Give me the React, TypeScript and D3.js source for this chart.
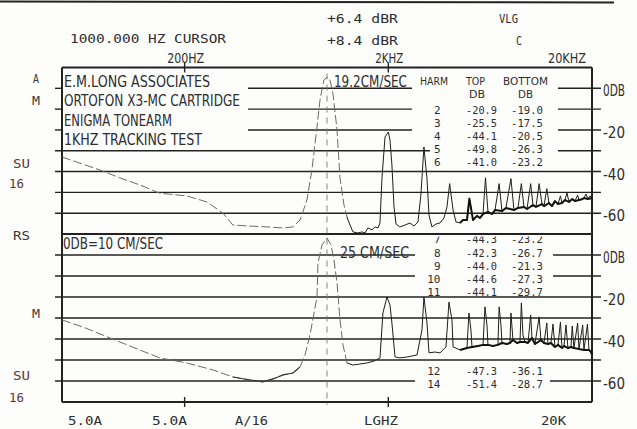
import React from 'react';
import * as d3 from 'd3';

const W = 637;
const H = 429;

// ---------- axes ----------
const FREQ_DOMAIN: [number, number] = [50, 20000];
const DB_DOMAIN: [number, number] = [10, -70];
const GRID_DB = [10, 0, -10, -20, -30, -40, -50, -60, -70];
const DB_LABEL_VALUES = [0, -20, -40, -60];
const DB_LABELS = ['0DB', '-20', '-40', '-60'];
const FREQ_TICKS = [200, 2000];
const FREQ_TICK_LABELS = ['200HZ', '2KHZ', '20KHZ'];
const FREQ_TICK_LABEL_FREQS = [200, 2000, 20000];
const CURSOR_FREQ = 1000;

// ---------- header ----------
const CURSOR_TEXT = '1000.000 HZ CURSOR';
const REF_LEVELS = ['+6.4 dBR', '+8.4 dBR'];
const MODE_TEXT = ['VLG', 'C'];
const INFO_LINES = ['E.M.LONG ASSOCIATES', 'ORTOFON X3-MC CARTRIDGE', 'ENIGMA TONEARM', '1KHZ TRACKING TEST'];
const TOP_SPEED = '19.2CM/SEC';
const BOTTOM_SPEED = '25 CM/SEC';
const REF_NOTE = '0DB=10 CM/SEC';
const LEFT_LABELS_TOP = ['A', 'M', 'SU', '16'];
const LEFT_LABELS_BOTTOM = ['RS', 'M', 'SU', '16'];
const BOTTOM_LABELS = ['5.0A', '5.0A', 'A/16', 'LGHZ', '20K'];

// ---------- harmonic table ----------
const HARM = ['2', '3', '4', '5', '6', '7', '8', '9', '10', '11', '12', '14'];
const TOP_DB = ['-20.9', '-25.5', '-44.1', '-49.8', '-41.0', '-44.3', '-42.3', '-44.0', '-44.6', '-44.1', '-47.3', '-51.4'];
const BOTTOM_DB = ['-19.0', '-17.5', '-20.5', '-26.3', '-23.2', '-23.2', '-26.7', '-21.3', '-27.3', '-29.7', '-36.1', '-28.7'];

// ---------- spectra: [Hz, dB] ----------
const TOP_TRACE: [number, number][] = [
  [50, -33.0], [61, -35.9], [77, -39.3], [96, -43.0], [121, -46.5], [151, -50.4], [205, -51.7],
  [257, -54.6], [308, -59.9], [345, -65.7], [419, -66.2], [507, -66.6], [608, -67.1], [680, -66.6],
  [737, -63.3], [797, -53.7], [843, -39.3], [893, -18.6], [924, -5.6], [966, 4.0], [1000, 5.4],
  [1034, 4.0], [1069, -2.3], [1120, -20.0], [1158, -43.0], [1212, -56.1], [1253, -61.8],
  [1297, -65.7], [1341, -69.0], [1419, -69.5], [1486, -69.0], [1537, -69.5], [1589, -67.1],
  [1663, -68.0], [1720, -66.6], [1780, -67.1], [1820, -64.7], [1862, -43.0], [1927, -23.4],
  [2000, -21.0], [2038, -24.8], [2083, -36.8], [2133, -57.0], [2182, -65.2], [2280, -66.6],
  [2415, -65.7], [2553, -64.7], [2673, -66.2], [2797, -64.2], [2890, -51.3], [2992, -28.2],
  [3096, -43.4], [3168, -60.9], [3274, -66.6], [3428, -65.2], [3587, -64.7], [3752, -62.3],
  [3882, -57.0], [4000, -45.8], [4159, -58.5], [4298, -64.2], [4500, -64.7], [4652, -63.3],
  [4865, -63.3], [5000, -53.0], [5211, -63.3], [5449, -61.3], [5638, -62.3], [5834, -60.4],
  [6000, -43.0], [6171, -59.4], [6456, -60.4], [6680, -58.5], [7000, -45.8], [7227, -59.0],
  [7561, -57.5], [8000, -43.4], [8279, -58.5], [8660, -57.5], [9000, -45.8], [9268, -57.0],
  [9590, -58.0], [10000, -45.8], [10261, -56.1], [10614, -57.0], [11000, -45.8], [11360, -55.6],
  [11620, -56.6], [12000, -48.2], [12296, -55.1], [12720, -56.6], [13160, -54.2], [13614, -55.6],
  [14000, -51.7], [14247, -55.1], [14737, -53.7], [15072, -50.3], [15417, -54.6], [16000, -53.2],
  [16497, -54.2], [17000, -51.3], [17261, -53.7], [18000, -53.2], [18264, -52.7], [18687, -50.8],
  [19110, -53.2], [19550, -51.7], [20000, -52.7],
];

const BOTTOM_TRACE: [number, number][] = [
  [50, -30.9], [65, -34.7], [86, -39.5], [114, -44.3], [151, -49.0], [205, -51.4], [275, -54.7],
  [345, -58.1], [419, -59.5], [485, -60.4], [543, -59.0], [608, -57.1], [680, -56.2], [737, -53.3],
  [780, -47.6], [825, -38.1], [893, -20.0], [903, -3.8], [945, 4.8], [1000, 8.1], [1046, 4.8],
  [1082, -2.4], [1120, -13.3], [1158, -30.9], [1198, -42.8], [1253, -51.4],
  [1341, -52.4], [1452, -51.9], [1571, -51.4], [1701, -50.5], [1820, -49.0], [1882, -27.6],
  [1970, -20.0], [2038, -23.8], [2083, -32.4], [2157, -48.5], [2280, -49.0], [2497, -48.5],
  [2766, -47.6], [2926, -35.7], [2992, -20.0], [3096, -32.4], [3168, -46.6], [3389, -46.2],
  [3587, -46.6], [3838, -43.8], [3970, -22.4], [4107, -30.9], [4159, -43.8], [4500, -45.2],
  [4865, -44.3], [4977, -27.6], [5091, -35.7], [5150, -43.8], [5511, -43.3], [5834, -42.8],
  [5964, -24.7], [6101, -33.3], [6171, -42.8], [6530, -43.3], [6907, -42.8], [7000, -24.7],
  [7146, -33.3], [7227, -41.9], [7647, -42.4], [7910, -41.9], [8000, -27.6], [8184, -40.5],
  [8566, -41.9], [8862, -41.4], [9000, -22.8], [9166, -38.1], [9376, -41.4], [9700, -41.9],
  [10000, -28.6], [10150, -39.5], [10494, -42.4], [11000, -29.5], [11232, -40.5], [11620, -41.9],
  [12000, -32.4], [12157, -42.4], [12575, -41.9], [12865, -32.9], [13160, -43.8], [13614, -42.8],
  [14000, -31.9], [14247, -44.3], [14568, -43.3], [14905, -33.3], [15241, -44.3], [15766, -43.8],
  [16000, -33.8], [16308, -44.3], [17000, -32.4], [17261, -44.8], [18000, -33.3], [18264, -45.2],
  [19000, -32.9], [19325, -45.2], [19773, -46.2], [20000, -47.6],
];

// ---------- layout ----------
const L = 62, R = 592, TOP_Y = 67.5, MID_Y = 234, BOT_Y = 402;
const FAINT_END = 1253;
const FLOOR_START = 4400;
const FLOOR_LIMIT = [-52.5, -38.5];
const INK = '#222';
const TXT = '#2e2e2e';
const COND = "'Liberation Sans Narrow','DejaVu Sans Condensed','Roboto Condensed','Liberation Sans',sans-serif";
const MONO = "'DejaVu Sans Mono','Liberation Mono',monospace";

const TOP_GAPS: Record<string, [number, number][]> = {
  '0': [[63, 248], [412, 558]],
  '-10': [[63, 248], [412, 558]],
  '-20': [[63, 248], [412, 558]],
  '-30': [[430, 558]],
};
const BOT_GAPS: Record<string, [number, number][]> = {
  '0': [[415, 553]],
  '-10': [[415, 553]],
  '-60': [[415, 550]],
};

function segs(x0: number, x1: number, gaps: [number, number][] = []) {
  const out: [number, number][] = [];
  let cur = x0;
  gaps.forEach(([a, b]) => {
    if (a > cur) out.push([cur, a]);
    cur = Math.max(cur, b);
  });
  if (cur < x1) out.push([cur, x1]);
  return out;
}

type TP = {
  x: number; y: number; w?: number; size: number; fam: string; children: React.ReactNode;
  fill?: string; anchor?: 'start' | 'middle' | 'end'; weight?: number;
};
function T({ x, y, w, size, fam, children, fill = TXT, anchor = 'start', weight = 400 }: TP) {
  return (
    <text x={x} y={y} fontSize={size} fontFamily={fam} fill={fill} textAnchor={anchor}
      fontWeight={weight}
      {...(w ? { textLength: w, lengthAdjust: 'spacingAndGlyphs' } : {})}>
      {children}
    </text>
  );
}

export default function App() {
  const x = d3.scaleLog().domain(FREQ_DOMAIN).range([L, R]);
  const yTop = d3.scaleLinear().domain(DB_DOMAIN).range([TOP_Y, MID_Y]);
  const yBot = d3.scaleLinear().domain(DB_DOMAIN).range([MID_Y, BOT_Y]);

  const mkLine = (ys: d3.ScaleLinear<number, number>) =>
    d3.line<[number, number]>().x(d => x(d[0])).y(d => ys(d[1]));
  const lt = mkLine(yTop);
  const lb = mkLine(yBot);

  const panels = [
    { ys: yTop, gaps: TOP_GAPS, trace: TOP_TRACE, line: lt },
    { ys: yBot, gaps: BOT_GAPS, trace: BOTTOM_TRACE, line: lb },
  ];

  const rowY = [114, 127, 140, 152.5, 165.5, 242.5, 257, 270, 283, 296, 375, 387.5];

  return (
    <svg width={W} height={H} viewBox={`0 0 ${W} ${H}`}
      style={{ position: 'absolute', left: 0, top: 0, background: '#fdfdfc' }}>
      <defs>
        <clipPath id="row7clip">
          <rect x={400} y={MID_Y + 2.5} width={180} height={20} />
        </clipPath>
      </defs>
      <rect width={W} height={H} fill="#fdfdfc" />
      {/* scan edge line */}
      <line x1={0} x2={614} y1={1.5} y2={2.5} stroke={INK} strokeWidth={2} />

      {/* grid lines */}
      {panels.map((p, pi) =>
        GRID_DB.map((v, i) => {
          const y = p.ys(v);
          const border = (pi === 0 && (i === 0 || i === GRID_DB.length - 1)) || (pi === 1 && i === GRID_DB.length - 1);
          if (pi === 1 && i === 0) return null;
          if (border) {
            return <line key={`b${pi}-${i}`} x1={L} x2={R} y1={y} y2={y} stroke={INK} strokeWidth={2} />;
          }
          return segs(55, 601, p.gaps[String(v)]).map(([a, b], k) => (
            <line key={`g${pi}-${i}-${k}`} x1={a} x2={b} y1={y} y2={y} stroke={INK} strokeWidth={1.4} />
          ));
        })
      )}
      {/* verticals */}
      <line x1={L} x2={L} y1={TOP_Y} y2={BOT_Y} stroke={INK} strokeWidth={2} />
      <line x1={R} x2={R} y1={TOP_Y} y2={BOT_Y} stroke={INK} strokeWidth={2} />

      {/* frequency ticks */}
      {FREQ_TICKS.map(f => (
        <g key={f}>
          <line x1={x(f)} x2={x(f)} y1={TOP_Y - 5} y2={TOP_Y + 5} stroke={INK} strokeWidth={1.4} />
          <line x1={x(f)} x2={x(f)} y1={BOT_Y - 5} y2={BOT_Y + 5} stroke={INK} strokeWidth={1.4} />
        </g>
      ))}
      {/* cursor */}
      <line x1={x(CURSOR_FREQ)} x2={x(CURSOR_FREQ)} y1={TOP_Y + 6} y2={BOT_Y + 3}
        stroke="#777" strokeWidth={0.9} strokeDasharray="6 5" />

      {/* traces */}
      {panels.map((p, pi) => {
        const faint = p.trace.filter(d => d[0] <= FAINT_END);
        const solid = p.trace.filter(d => d[0] >= FAINT_END);
        const floor = p.trace.filter(d => d[0] >= FLOOR_START && d[1] < FLOOR_LIMIT[pi]);
        return (
          <g key={`t${pi}`} fill="none" strokeLinejoin="round">
            <path d={p.line(faint) || ''} stroke="#6a6a6a" strokeWidth={1} strokeDasharray="9 3" />
            {pi === 1 && (
              <path d={p.line(p.trace.filter(d => d[0] >= 345 && d[0] <= 737)) || ''} stroke="#333" strokeWidth={1.1} />
            )}
            <path d={p.line(solid) || ''} stroke="#1e1e1e" strokeWidth={1} />
            <path d={p.line(floor) || ''} stroke="#111" strokeWidth={2} />
          </g>
        );
      })}

      {/* header */}
      <T x={70} y={43} w={156} size={13} fam={MONO}>{CURSOR_TEXT}</T>
      <T x={327} y={23} w={71} size={13} fam={MONO}>{REF_LEVELS[0]}</T>
      <T x={327} y={45} w={71} size={13} fam={MONO}>{REF_LEVELS[1]}</T>
      <T x={499} y={23} w={19} size={13} fam={MONO}>{MODE_TEXT[0]}</T>
      <T x={516} y={45} w={6} size={13} fam={MONO}>{MODE_TEXT[1]}</T>
      {FREQ_TICK_LABEL_FREQS.map((f, i) => (
        <T key={f} x={i < 2 ? x(f) + 1 : 567} y={63} w={[37, 28, 38][i]} size={14} fam={COND} anchor="middle">
          {FREQ_TICK_LABELS[i]}
        </T>
      ))}

      {/* info block */}
      {INFO_LINES.map((s, i) => (
        <T key={s} x={64} y={[87, 106, 126, 145][i]} w={[146, 176, 108, 138][i]} size={16} fam={COND}>{s}</T>
      ))}
      <T x={334} y={87} w={73} size={15} fam={COND}>{TOP_SPEED}</T>
      <T x={340} y={258} w={69} size={16} fam={COND}>{BOTTOM_SPEED}</T>
      <T x={63} y={249} w={100} size={16} fam={COND}>{REF_NOTE}</T>

      {/* table header */}
      <T x={420} y={84.5} w={28} size={11} fam={COND}>HARM</T>
      <T x={466} y={84.5} w={19} size={11} fam={COND}>TOP</T>
      <T x={503} y={84.5} w={45} size={11} fam={COND}>BOTTOM</T>
      <T x={469} y={97.5} w={16} size={11} fam={COND}>DB</T>
      <T x={518} y={97.5} w={15} size={11} fam={COND}>DB</T>

      {HARM.map((h, i) => {
        const row = (
          <g key={h}>
            <T x={440.5} y={rowY[i]} size={11} fam={MONO} anchor="end">{h}</T>
            <T x={466} y={rowY[i]} w={31} size={11} fam={MONO}>{TOP_DB[i]}</T>
            <T x={511} y={rowY[i]} w={32} size={11} fam={MONO}>{BOTTOM_DB[i]}</T>
          </g>
        );
        return i === 5 ? <g key={h} clipPath="url(#row7clip)">{row}</g> : row;
      })}

      {/* right dB labels */}
      {panels.map((p, pi) =>
        DB_LABEL_VALUES.map((v, i) => (
          <T key={`r${pi}-${i}`} x={603} y={p.ys(v) + 8} w={22} size={16} fam={COND}>{DB_LABELS[i]}</T>
        ))
      )}

      {/* left labels */}
      {LEFT_LABELS_TOP.map((s, i) => (
        <T key={`lt${i}`} x={[33, 32, 13, 9][i]} y={[83, 105, 168, 188][i]} w={[6, 8, 17, 15][i]} size={13} fam={MONO}
          fill={i >= 2 ? '#5a3838' : '#3a3a3a'}>{s}</T>
      ))}
      {LEFT_LABELS_BOTTOM.map((s, i) => (
        <T key={`lb${i}`} x={[13, 32, 13, 9][i]} y={[240, 318, 380, 402][i]} w={[17, 8, 17, 15][i]} size={13} fam={MONO}
          fill={i >= 2 ? '#5a3838' : '#3a3a3a'}>{s}</T>
      ))}

      {/* bottom labels */}
      {BOTTOM_LABELS.map((s, i) => (
        <T key={`bl${i}`} x={[68, 152, 235, 364, 541][i]} y={425} w={[34, 35, 33, 34, 25][i]} size={13} fam={MONO}>{s}</T>
      ))}
    </svg>
  );
}
